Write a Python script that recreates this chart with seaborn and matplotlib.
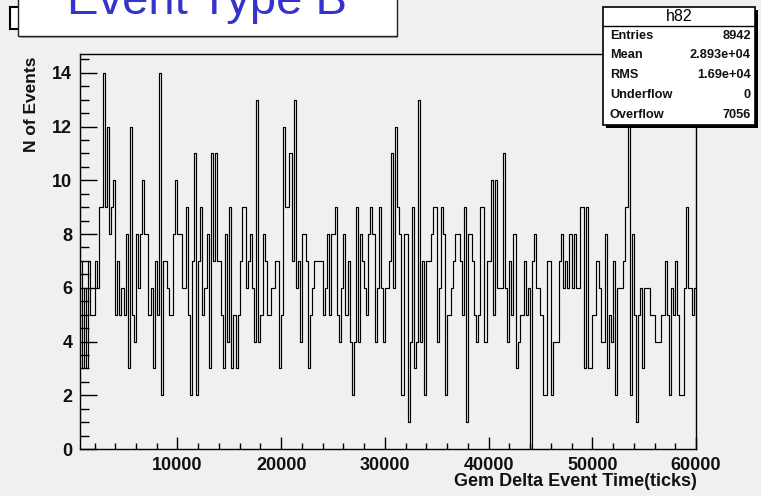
import numpy as np
import pandas as pd
import matplotlib
matplotlib.use("Agg")
import matplotlib.pyplot as plt
import seaborn as sns
from matplotlib.patches import Rectangle
from matplotlib.ticker import MultipleLocator

# ---------------- data (counts per 200-tick bin, starting at 600) ----------------
x_min = 600
x_max = 60000
bin_width = 200
counts_a = [7, 3, 6, 3, 7, 5, 5, 7, 6, 9, 9, 14, 9, 12, 8, 9, 10, 5, 7, 5, 6, 5, 8, 3, 12,
            5, 4, 8, 6, 8, 10, 8, 8, 5, 6, 3, 7, 5]
counts_b = [14, 2, 7, 7, 6, 5, 5, 8, 10, 8, 8, 6, 6, 9, 5, 2, 7, 11, 2, 7, 9, 5, 6, 8, 3,
            11, 7, 11, 7, 7, 5, 3, 8, 4, 9, 3, 5]
counts_c = [3, 5, 7, 9, 9, 6, 7, 8, 6, 4, 13, 4, 5, 8, 7, 5, 5, 6, 6, 7, 7, 3, 5, 12, 9,
            9, 11, 7, 13, 6, 7, 4, 8, 8, 7, 3, 5, 6]
counts_d = [7, 7, 7, 7, 5, 6, 8, 5, 8, 8, 9, 5, 4, 6, 8, 5, 7, 4, 2, 4, 9, 4, 8, 7, 6,
            5, 8, 9, 8, 4, 6, 9, 6, 4, 6, 6, 7, 11]
counts_e = [6, 12, 9, 8, 2, 8, 8, 1, 4, 9, 3, 4, 13, 4, 7, 2, 7, 7, 8, 9, 9, 4, 6, 9, 8,
            2, 5, 5, 6, 7, 8, 8, 7, 5, 9, 1, 8]
counts_f = [8, 7, 5, 4, 5, 9, 9, 4, 7, 7, 10, 5, 10, 6, 6, 6, 11, 6, 4, 7, 5, 8, 3, 4, 5,
            5, 7, 5, 6, 0, 7, 8, 6, 6, 5, 2, 2, 7]
counts_g = [7, 2, 4, 4, 4, 7, 8, 6, 7, 6, 8, 6, 8, 6, 6, 9, 9, 3, 9, 3, 3, 5, 5, 7, 6,
            4, 4, 8, 3, 5, 4, 7, 2, 6, 6, 6, 7, 9]
counts_h = [13, 2, 8, 5, 1, 5, 6, 3, 6, 6, 6, 5, 5, 4, 4, 4, 5, 5, 7, 5, 2, 6, 5, 7, 5,
            2, 2, 6, 9, 6, 6, 5, 6]

x_ticks = [10000, 20000, 30000, 40000, 50000, 60000]
y_ticks = [0, 2, 4, 6, 8, 10, 12, 14]
stat_labels = ["Entries", "Mean", "RMS", "Underflow", "Overflow"]
stat_values = ["8942", "2.893e+04", "1.69e+04", "0", "7056"]
hist_name = "h82"
title = "Event Type B"
x_title = "Gem Delta Event Time(ticks)"
y_title = "N of Events"

counts = counts_a + counts_b + counts_c + counts_d + counts_e + counts_f + counts_g + counts_h
centers = x_min + bin_width * (np.arange(len(counts)) + 0.5)
df = pd.DataFrame({"t": centers, "n": counts})

# ---------------- figure ----------------
sns.set_theme(style="white")
plt.rcParams['font.family'] = ['Liberation Sans', 'DejaVu Sans']

W, H = 761, 496
BG = "#f0f0f0"
fig = plt.figure(figsize=(W / 100, H / 100), dpi=100, facecolor=BG)


def fx(px):
    return px / W


def fy(py):
    return 1 - py / H


ax = fig.add_axes([fx(80), fy(449), fx(696) - fx(80), fy(54) - fy(449)])
ax.set_facecolor(BG)

sns.histplot(data=df, x="t", weights="n", binwidth=bin_width, binrange=(x_min, x_max),
             element="step", fill=False, color="black", linewidth=0.85, ax=ax)

ax.set_xlim(x_min, x_max)
ax.set_ylim(0, 14.7)
ax.set_xticks(x_ticks)
ax.set_yticks(y_ticks)
ax.set_xticklabels([str(v) for v in x_ticks])
ax.set_yticklabels([str(v) for v in y_ticks])
ax.xaxis.set_minor_locator(MultipleLocator(2000))
ax.yaxis.set_minor_locator(MultipleLocator(0.5))
ax.set_xlabel("")
ax.set_ylabel("")
for s in ax.spines.values():
    s.set_color("black")
    s.set_linewidth(1.0)

ax.tick_params(axis="x", which="major", direction="in", length=9, width=1,
               color="black", labelsize=13, pad=5.5, bottom=True, top=False)
ax.tick_params(axis="x", which="minor", direction="in", length=4.5, width=1,
               color="black", bottom=True, top=False)
ax.tick_params(axis="y", which="major", direction="in", length=12, width=1,
               color="black", labelsize=13, pad=5.5, left=True, right=False)
ax.tick_params(axis="y", which="minor", direction="in", length=6.5, width=1,
               color="black", left=True, right=False)
for lab in ax.get_xticklabels() + ax.get_yticklabels():
    lab.set_fontweight("bold")
    lab.set_color("#111111")

# axis titles (ROOT style: aligned to axis ends)
fig.text(fx(697), fy(473), x_title, ha="right", va="top", fontsize=13,
         fontweight="bold", color="#111111")
fig.text(fx(32), fy(56), y_title, ha="center", va="top", rotation=90, fontsize=12.5,
         fontweight="bold", color="#111111")

# ---------------- title box ----------------
fig.add_artist(Rectangle((fx(10), fy(29)), fx(30), fy(7) - fy(29),
                         transform=fig.transFigure, facecolor="white",
                         edgecolor="black", linewidth=1.5, zorder=5))
fig.add_artist(Rectangle((fx(20), fy(38)), fx(378), fy(0) - fy(36) + 0.02,
                         transform=fig.transFigure, facecolor="#a8a8a8",
                         edgecolor="none", zorder=6))
fig.add_artist(Rectangle((fx(18), fy(36)), fx(379), fy(0) - fy(36) + 0.02,
                         transform=fig.transFigure, facecolor="white",
                         edgecolor="#202020", linewidth=1.0, zorder=7))
fig.text(fx(207), fy(14), title, ha="center", va="baseline", fontsize=34,
         color="#3434cc", zorder=8)

# ---------------- stats box ----------------
bx0, bx1, by0, by1 = 603, 755, 7, 125
fig.add_artist(Rectangle((fx(bx0 + 3), fy(by1 + 3)), fx(bx1 - bx0), fy(by0) - fy(by1),
                         transform=fig.transFigure, facecolor="black",
                         edgecolor="none", zorder=5))
fig.add_artist(Rectangle((fx(bx0), fy(by1)), fx(bx1 - bx0), fy(by0) - fy(by1),
                         transform=fig.transFigure, facecolor="white",
                         edgecolor="black", linewidth=1.2, zorder=6))
fig.add_artist(plt.Line2D([fx(bx0), fx(bx1)], [fy(26), fy(26)], transform=fig.transFigure,
                          color="black", linewidth=1.0, zorder=7))
fig.text(fx((bx0 + bx1) / 2), fy(16.5), hist_name, ha="center", va="center",
         fontsize=11.5, color="black", zorder=8)
row_y = [36, 55.5, 75, 95, 114.5]
for lbl, val, yy in zip(stat_labels, stat_values, row_y):
    fig.text(fx(610), fy(yy), lbl, ha="left", va="center", fontsize=9.2,
             fontweight="bold", color="#111111", zorder=8)
    fig.text(fx(751), fy(yy), val, ha="right", va="center", fontsize=9.2,
             fontweight="bold", color="#111111", zorder=8)

fig.savefig("out.png", dpi=100, facecolor=BG)
